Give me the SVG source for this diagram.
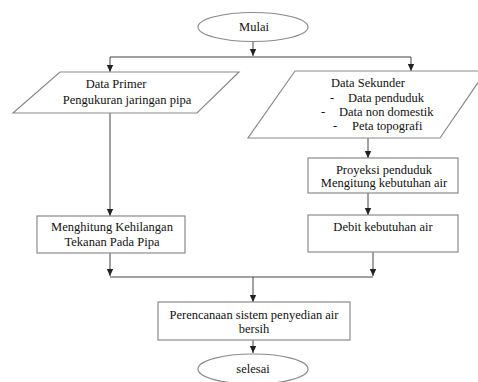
<svg xmlns="http://www.w3.org/2000/svg" width="478" height="382" viewBox="0 0 478 382" font-family="'Liberation Serif', 'Times New Roman', serif">
<defs>
<style>
.shape{fill:#fff;stroke:#8a8a8a;stroke-width:1.2}
.conn{fill:none;stroke:#444;stroke-width:1}
.t{font-family:'Liberation Serif','Times New Roman',serif;font-size:12.5px;fill:#111}
.m{text-anchor:middle}
</style>
<marker id="ah" markerWidth="8" markerHeight="8" refX="7" refY="4" orient="auto" markerUnits="userSpaceOnUse">
<path d="M0,0.8 L7,4 L0,7.2 Z" fill="#222"/>
</marker>
</defs>
<rect width="478" height="382" fill="#fff"/>
<g id="connectors">
<line class="conn" x1="253" y1="42" x2="253" y2="56" marker-end="url(#ah)"/>
<polyline class="conn" points="110,57 411,57"/>
<line class="conn" x1="110" y1="57" x2="110" y2="72" marker-end="url(#ah)"/>
<line class="conn" x1="411" y1="57" x2="411" y2="71" marker-end="url(#ah)"/>
<line class="conn" x1="110" y1="113" x2="110" y2="216" marker-end="url(#ah)"/>
<line class="conn" x1="368" y1="138" x2="368" y2="158" marker-end="url(#ah)"/>
<line class="conn" x1="368" y1="193" x2="368" y2="215" marker-end="url(#ah)"/>
<line class="conn" x1="110" y1="253" x2="110" y2="276" marker-end="url(#ah)"/>
<line class="conn" x1="373" y1="252" x2="373" y2="276" marker-end="url(#ah)"/>
<polyline class="conn" points="110,277 373,277"/>
<line class="conn" x1="253" y1="277" x2="253" y2="302" marker-end="url(#ah)"/>
<line class="conn" x1="253" y1="340" x2="253" y2="353" marker-end="url(#ah)"/>
</g>
<g id="mulai">
<ellipse class="shape" cx="253" cy="27" rx="55" ry="14.5"/>
<text class="t m" x="254" y="31">Mulai</text>
</g>
<g id="data-primer">
<polygon class="shape" points="60,72 239,72 197,113 13,113"/>
<text class="t m" x="116" y="88">Data Primer</text>
<text class="t m" x="127" y="104">Pengukuran jaringan pipa</text>
</g>
<g id="data-sekunder">
<polygon class="shape" points="295,71 486,71 440,138 248,138"/>
<text class="t" x="331" y="87">Data Sekunder</text>
<text class="t" x="330" y="102">-</text>
<text class="t" x="348" y="102">Data penduduk</text>
<text class="t" x="321" y="116">-</text>
<text class="t" x="339" y="116">Data non domestik</text>
<text class="t" x="333" y="130">-</text>
<text class="t" x="352" y="130">Peta topografi</text>
</g>
<g id="menghitung-kehilangan">
<rect class="shape" x="37" y="216" width="148" height="37"/>
<text class="t m" x="112" y="231">Menghitung Kehilangan</text>
<text class="t m" x="112" y="246">Tekanan Pada Pipa</text>
</g>
<g id="proyeksi">
<rect class="shape" x="308" y="158" width="150" height="35"/>
<text class="t m" x="384" y="174">Proyeksi penduduk</text>
<text class="t m" x="384" y="187">Mengitung kebutuhan air</text>
</g>
<g id="debit">
<rect class="shape" x="308" y="215" width="150" height="37"/>
<text class="t m" x="383" y="231">Debit kebutuhan air</text>
</g>
<g id="perencanaan">
<rect class="shape" x="158" y="302" width="192" height="38"/>
<text class="t m" x="254" y="319">Perencanaan sistem penyedian air</text>
<text class="t m" x="254" y="333">bersih</text>
</g>
<g id="selesai">
<ellipse class="shape" cx="253" cy="369" rx="55" ry="15"/>
<text class="t m" x="253" y="373">selesai</text>
</g>
</svg>
